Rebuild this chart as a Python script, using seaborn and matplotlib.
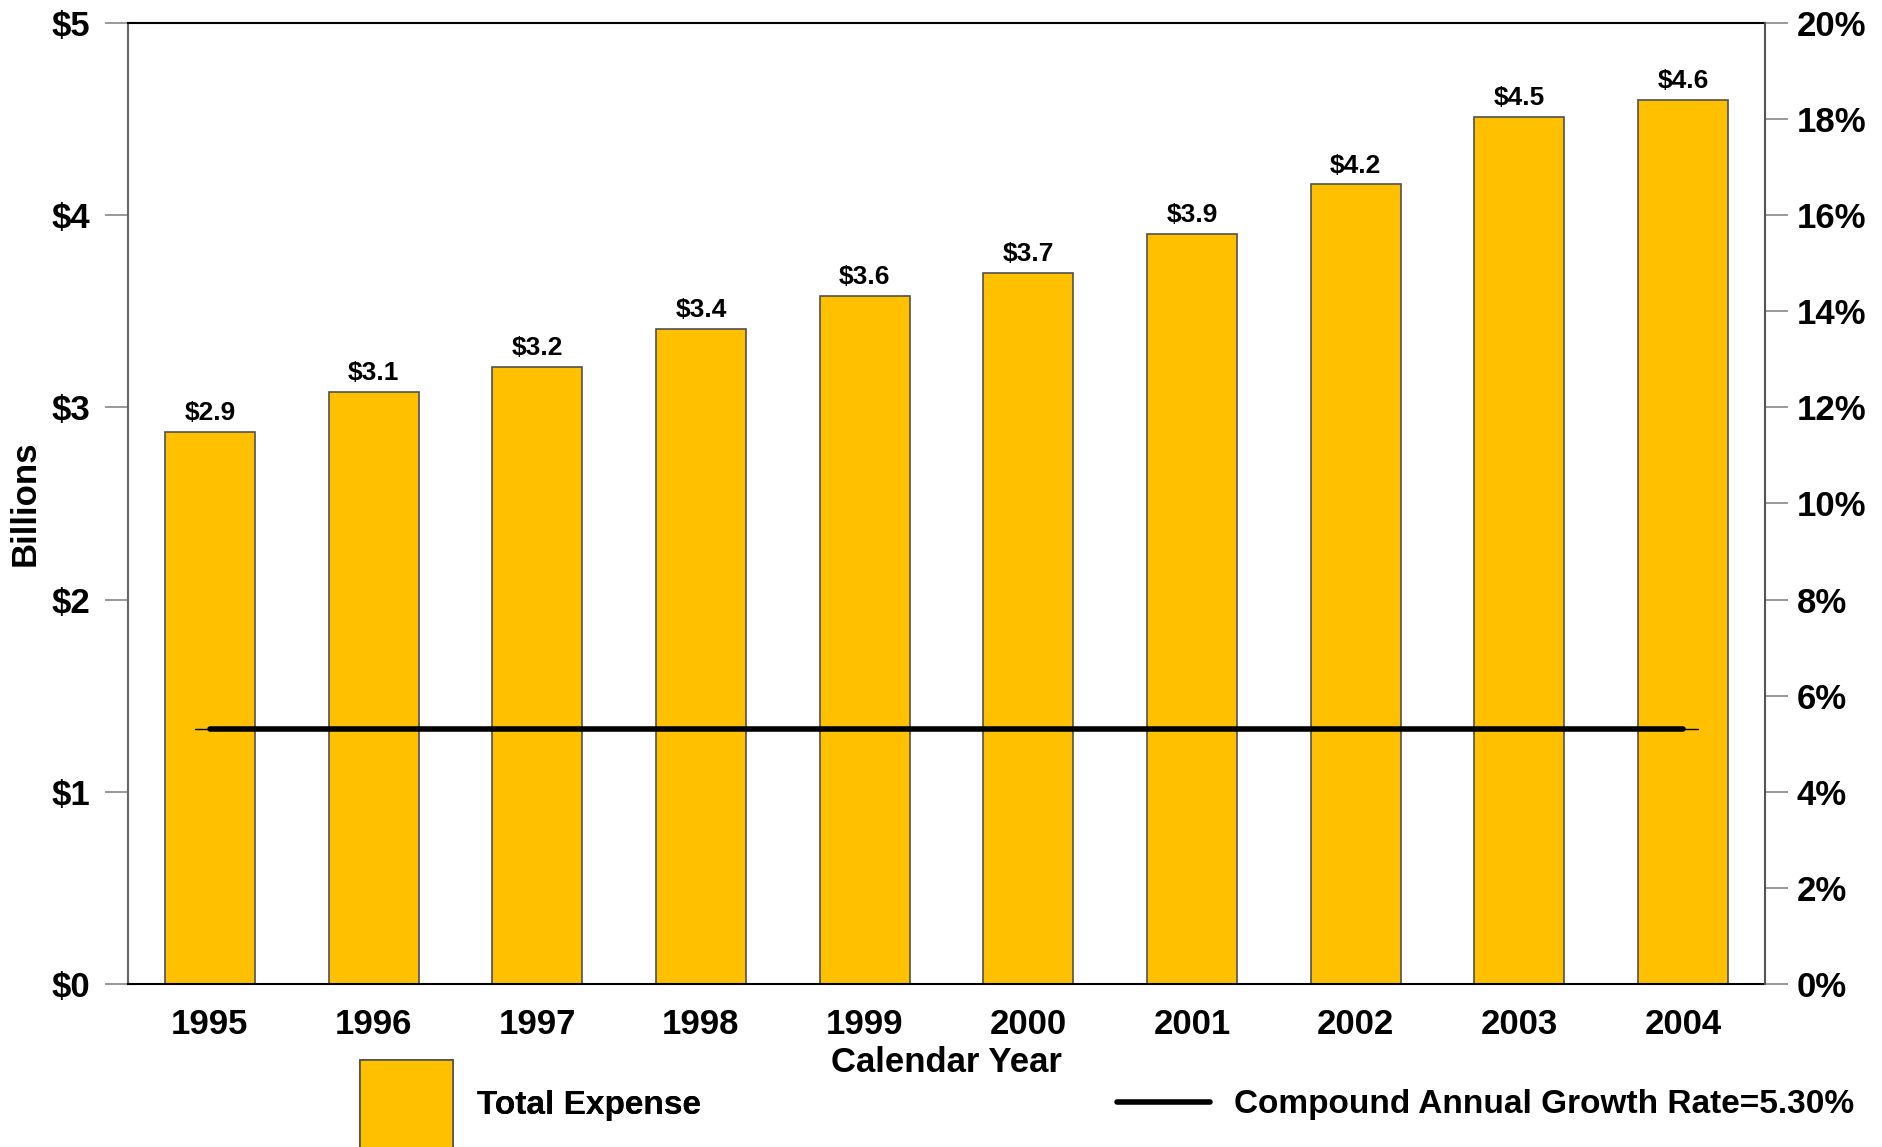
import numpy as np
import pandas as pd
import seaborn as sns
import matplotlib.pyplot as plt
from matplotlib.patches import Patch
from matplotlib.lines import Line2D

# --- DATEN ---
years = ["1995", "1996", "1997", "1998", "1999", "2000", "2001", "2002", "2003", "2004"]
expense = [2.87, 3.08, 3.21, 3.41, 3.58, 3.70, 3.90, 4.16, 4.51, 4.60]
cagr = 5.30
left_ticks = [0, 1, 2, 3, 4, 5]
right_ticks = [0, 2, 4, 6, 8, 10, 12, 14, 16, 18, 20]

BAR_COLOR = "#FFC000"
EDGE = "#505050"
FONT = 25

sns.set_theme(style="white")
plt.rcParams["font.family"] = ["Liberation Sans", "DejaVu Sans"]
plt.rcParams["font.weight"] = "bold"
plt.rcParams["text.color"] = "black"
plt.rcParams["axes.labelcolor"] = "black"

df = pd.DataFrame({"Year": years, "Expense": expense})

fig = plt.figure(figsize=(18.83, 11.47), dpi=100)
ax = fig.add_axes([128 / 1883, 1 - 984 / 1147, (1765 - 128) / 1883, (984 - 23) / 1147])

sns.barplot(data=df, x="Year", y="Expense", color=BAR_COLOR, width=0.55,
            edgecolor=EDGE, linewidth=1.2, saturation=1, ax=ax)
ax.bar_label(ax.containers[0], labels=[f"${v:.1f}" for v in expense],
             padding=5, fontsize=19, fontweight="bold", color="black")

ax.set_xlim(-0.5, len(years) - 0.5)
ax.set_ylim(0, 5)
ax.set_yticks(left_ticks)
ax.set_yticklabels([f"${t}" for t in left_ticks], fontsize=FONT, fontweight="bold")
ax.set_xticks(range(len(years)))
ax.set_xticklabels(years, fontsize=FONT, fontweight="bold")
ax.tick_params(axis="x", length=0, pad=17, labelcolor="black")
ax.set_xticks(np.arange(-0.5, len(years), 1.0), minor=True)
ax.tick_params(axis="x", which="minor", direction="inout", length=25, color="#999999", width=1)
ax.tick_params(axis="y", direction="out", length=16.5, color="#888888", width=1.2, pad=11,
               left=True, labelcolor="black")
ax.set_xlabel("Calendar Year", fontsize=FONT, fontweight="bold", labelpad=4)
ax.set_ylabel("Billions", fontsize=FONT, fontweight="bold")
ax.yaxis.set_label_coords(-0.053, 0.5)

for side in ["top", "bottom"]:
    ax.spines[side].set_color("black")
    ax.spines[side].set_linewidth(1.5)
ax.spines["left"].set_color("#666666")
ax.spines["left"].set_linewidth(1.5)

# rechte Achse: Wachstumsrate
ax2 = ax.twinx()
ax2.set_ylim(0, 20)
ax2.set_yticks(right_ticks)
ax2.set_yticklabels([f"{t}%" for t in right_ticks], fontsize=FONT, fontweight="bold")
ax2.tick_params(axis="y", direction="out", length=16.5, color="#888888", width=1.2, pad=6.5,
                labelcolor="black")
ax2.spines["right"].set_color("#555555")
ax2.spines["right"].set_linewidth(1.5)
for side in ["top", "bottom", "left"]:
    ax2.spines[side].set_visible(False)

xpos = np.arange(len(years))
ax2.plot([xpos[0] - 0.09, xpos[-1] + 0.09], [cagr, cagr], color="black", lw=1)
sns.lineplot(x=xpos, y=[cagr] * len(years), color="black", linewidth=4,
             solid_capstyle="round", ax=ax2, legend=False)
ax2.set_xlim(-0.5, len(years) - 0.5)

# Legende (zwei Teile, damit die Linie mittig zum Text sitzt)
leg_y = 1 - 1105 / 1147
leg_props = {"size": 24, "weight": "bold"}
leg1 = fig.legend([Patch(facecolor=BAR_COLOR, edgecolor=EDGE, linewidth=1.2)], ["Total Expense"],
                  loc="center left", bbox_to_anchor=(360 / 1883, leg_y),
                  frameon=False, prop=leg_props, handlelength=2.8, handleheight=3.8,
                  handletextpad=0.7, borderpad=0, borderaxespad=0)
fig.add_artist(leg1)
fig.legend([Line2D([0], [0], color="black", lw=4, solid_capstyle="round")],
           [f"Compound Annual Growth Rate={cagr:.2f}%"],
           loc="center left", bbox_to_anchor=(1117 / 1883, leg_y),
           frameon=False, prop=leg_props, handlelength=2.8, handletextpad=0.7,
           borderpad=0, borderaxespad=0)

fig.savefig("out.png", dpi=100)
